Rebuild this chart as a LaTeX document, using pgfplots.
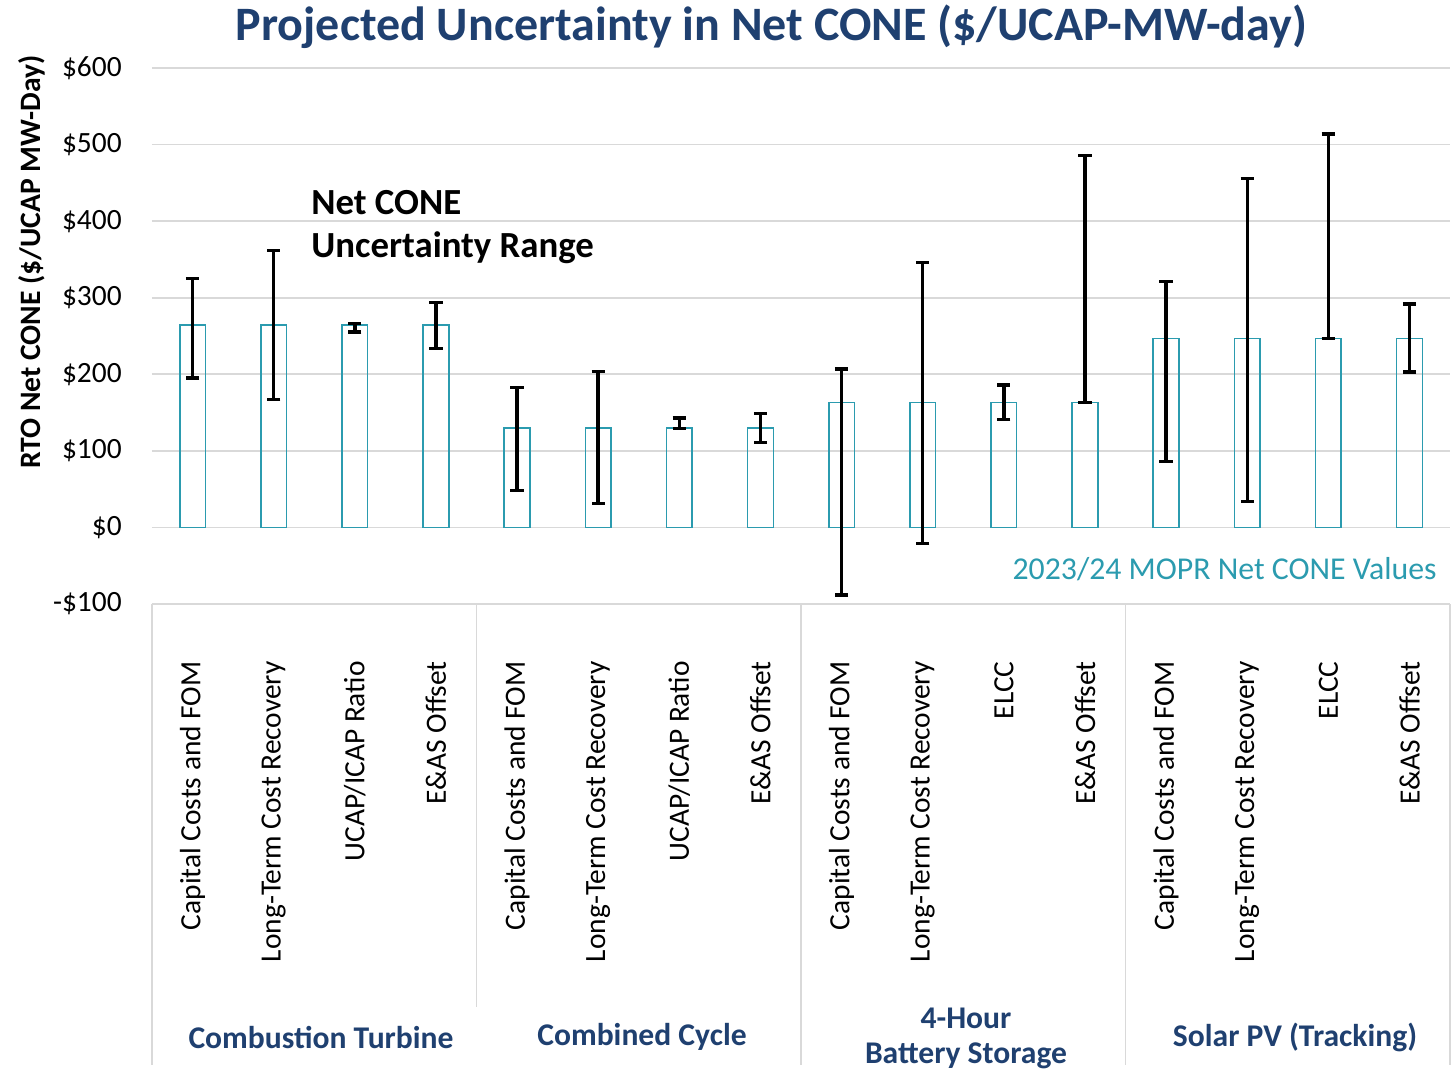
\documentclass[border=0pt]{standalone}
\usepackage{pgfplots}
\pgfplotsset{compat=1.18}
\usepackage{pgfplotstable}
\usepackage{fontspec}
\setmainfont{Carlito}
\definecolor{navy}{RGB}{31,64,112}
\definecolor{tealc}{RGB}{43,155,175}
\definecolor{gridc}{RGB}{217,217,217}

% x = category index, y = 2023/24 MOPR Net CONE, ep/em = distance to top/bottom of range
\pgfplotstableread{
x  y    ep   em
1  264  61   69
2  264  98   97
3  264  2    9
4  264  30   30
5  130  53   82
6  130  74   99
7  130  13   1
8  130  19   19
9  163  44   251
10 163  183  184
11 163  23   22
12 163  323  0
13 247  74   161
14 247  209  213
15 247  267  0
16 247  45   44
}\data

\begin{document}
\begin{tikzpicture}
\path[use as bounding box] (-76pt,-233.5pt) rectangle (651pt,302pt);
\begin{axis}[
  at={(0,0)}, anchor=south west,
  scale only axis, width=649pt, height=268pt,
  xmin=0.5, xmax=16.5, ymin=-100, ymax=600,
  axis lines=left, axis line style={draw=none},
  clip=false,
  ytick={-100,0,100,200,300,400,500,600},
  yticklabels={-\$100,\$0,\$100,\$200,\$300,\$400,\$500,\$600},
  ymajorgrids, grid style={gridc, line width=0.9pt},
  major tick style={draw=none},
  yticklabel style={font=\fontsize{14.7}{17}\selectfont, xshift=-9.5pt},
  xtick={1,...,16},
  xticklabels={Capital Costs and FOM, Long-Term Cost Recovery, UCAP/ICAP Ratio, E\&AS Offset,
               Capital Costs and FOM, Long-Term Cost Recovery, UCAP/ICAP Ratio, E\&AS Offset,
               Capital Costs and FOM, Long-Term Cost Recovery, ELCC, E\&AS Offset,
               Capital Costs and FOM, Long-Term Cost Recovery, ELCC, E\&AS Offset},
  xticklabel style={yshift=-23pt, rotate=90, anchor=east, font=\fontsize{14.7}{17}\selectfont},
]
\addplot[ybar, bar width=0.317, draw=tealc, fill=none, line width=0.8pt,
  error bars/.cd, y dir=both, y explicit,
  error bar style={line width=1.7pt, black},
  error mark options={black, line width=1.7pt, mark size=3.3pt, rotate=90}]
  table[x=x, y=y, y error plus=ep, y error minus=em] {\data};
\end{axis}
% category group frame
\foreach \gx in {0,324.5,486.75,649}{\draw[gridc, line width=0.9pt] (\gx pt,0) -- (\gx pt,-230.5pt);}
\draw[gridc, line width=0.9pt] (162.25pt,0) -- (162.25pt,-201.5pt);
% texts
\node[font=\fontsize{24}{28}\bfseries\selectfont, text=navy] at (309.75pt,288.5pt) {Projected Uncertainty in Net CONE (\$/UCAP-MW-day)};
\node[rotate=90, font=\fontsize{14.8}{17}\bfseries\selectfont] at (-60pt,171pt) {RTO Net CONE (\$/UCAP MW-Day)};
\node[anchor=west, inner sep=0pt, font=\fontsize{18.4}{22}\bfseries\selectfont] at (79.5pt,200.5pt) {Net CONE};
\node[anchor=west, inner sep=0pt, font=\fontsize{18.4}{22}\bfseries\selectfont] at (79.5pt,178pt) {Uncertainty Range};
\node[anchor=east, inner sep=0pt, font=\fontsize{15.9}{19}\selectfont, text=tealc] at (642.5pt,17.5pt) {2023/24 MOPR Net CONE Values};
\begin{scope}[font=\fontsize{15.8}{19}\bfseries\selectfont, text=navy]
\node at (84.5pt,-216.5pt) {Combustion Turbine};
\node at (245pt,-216.5pt) {Combined Cycle};
\node at (407pt,-207pt) {4-Hour};
\node at (407pt,-226pt) {Battery Storage};
\node at (571.5pt,-216.5pt) {Solar PV (Tracking)};
\end{scope}
\end{tikzpicture}
\end{document}
